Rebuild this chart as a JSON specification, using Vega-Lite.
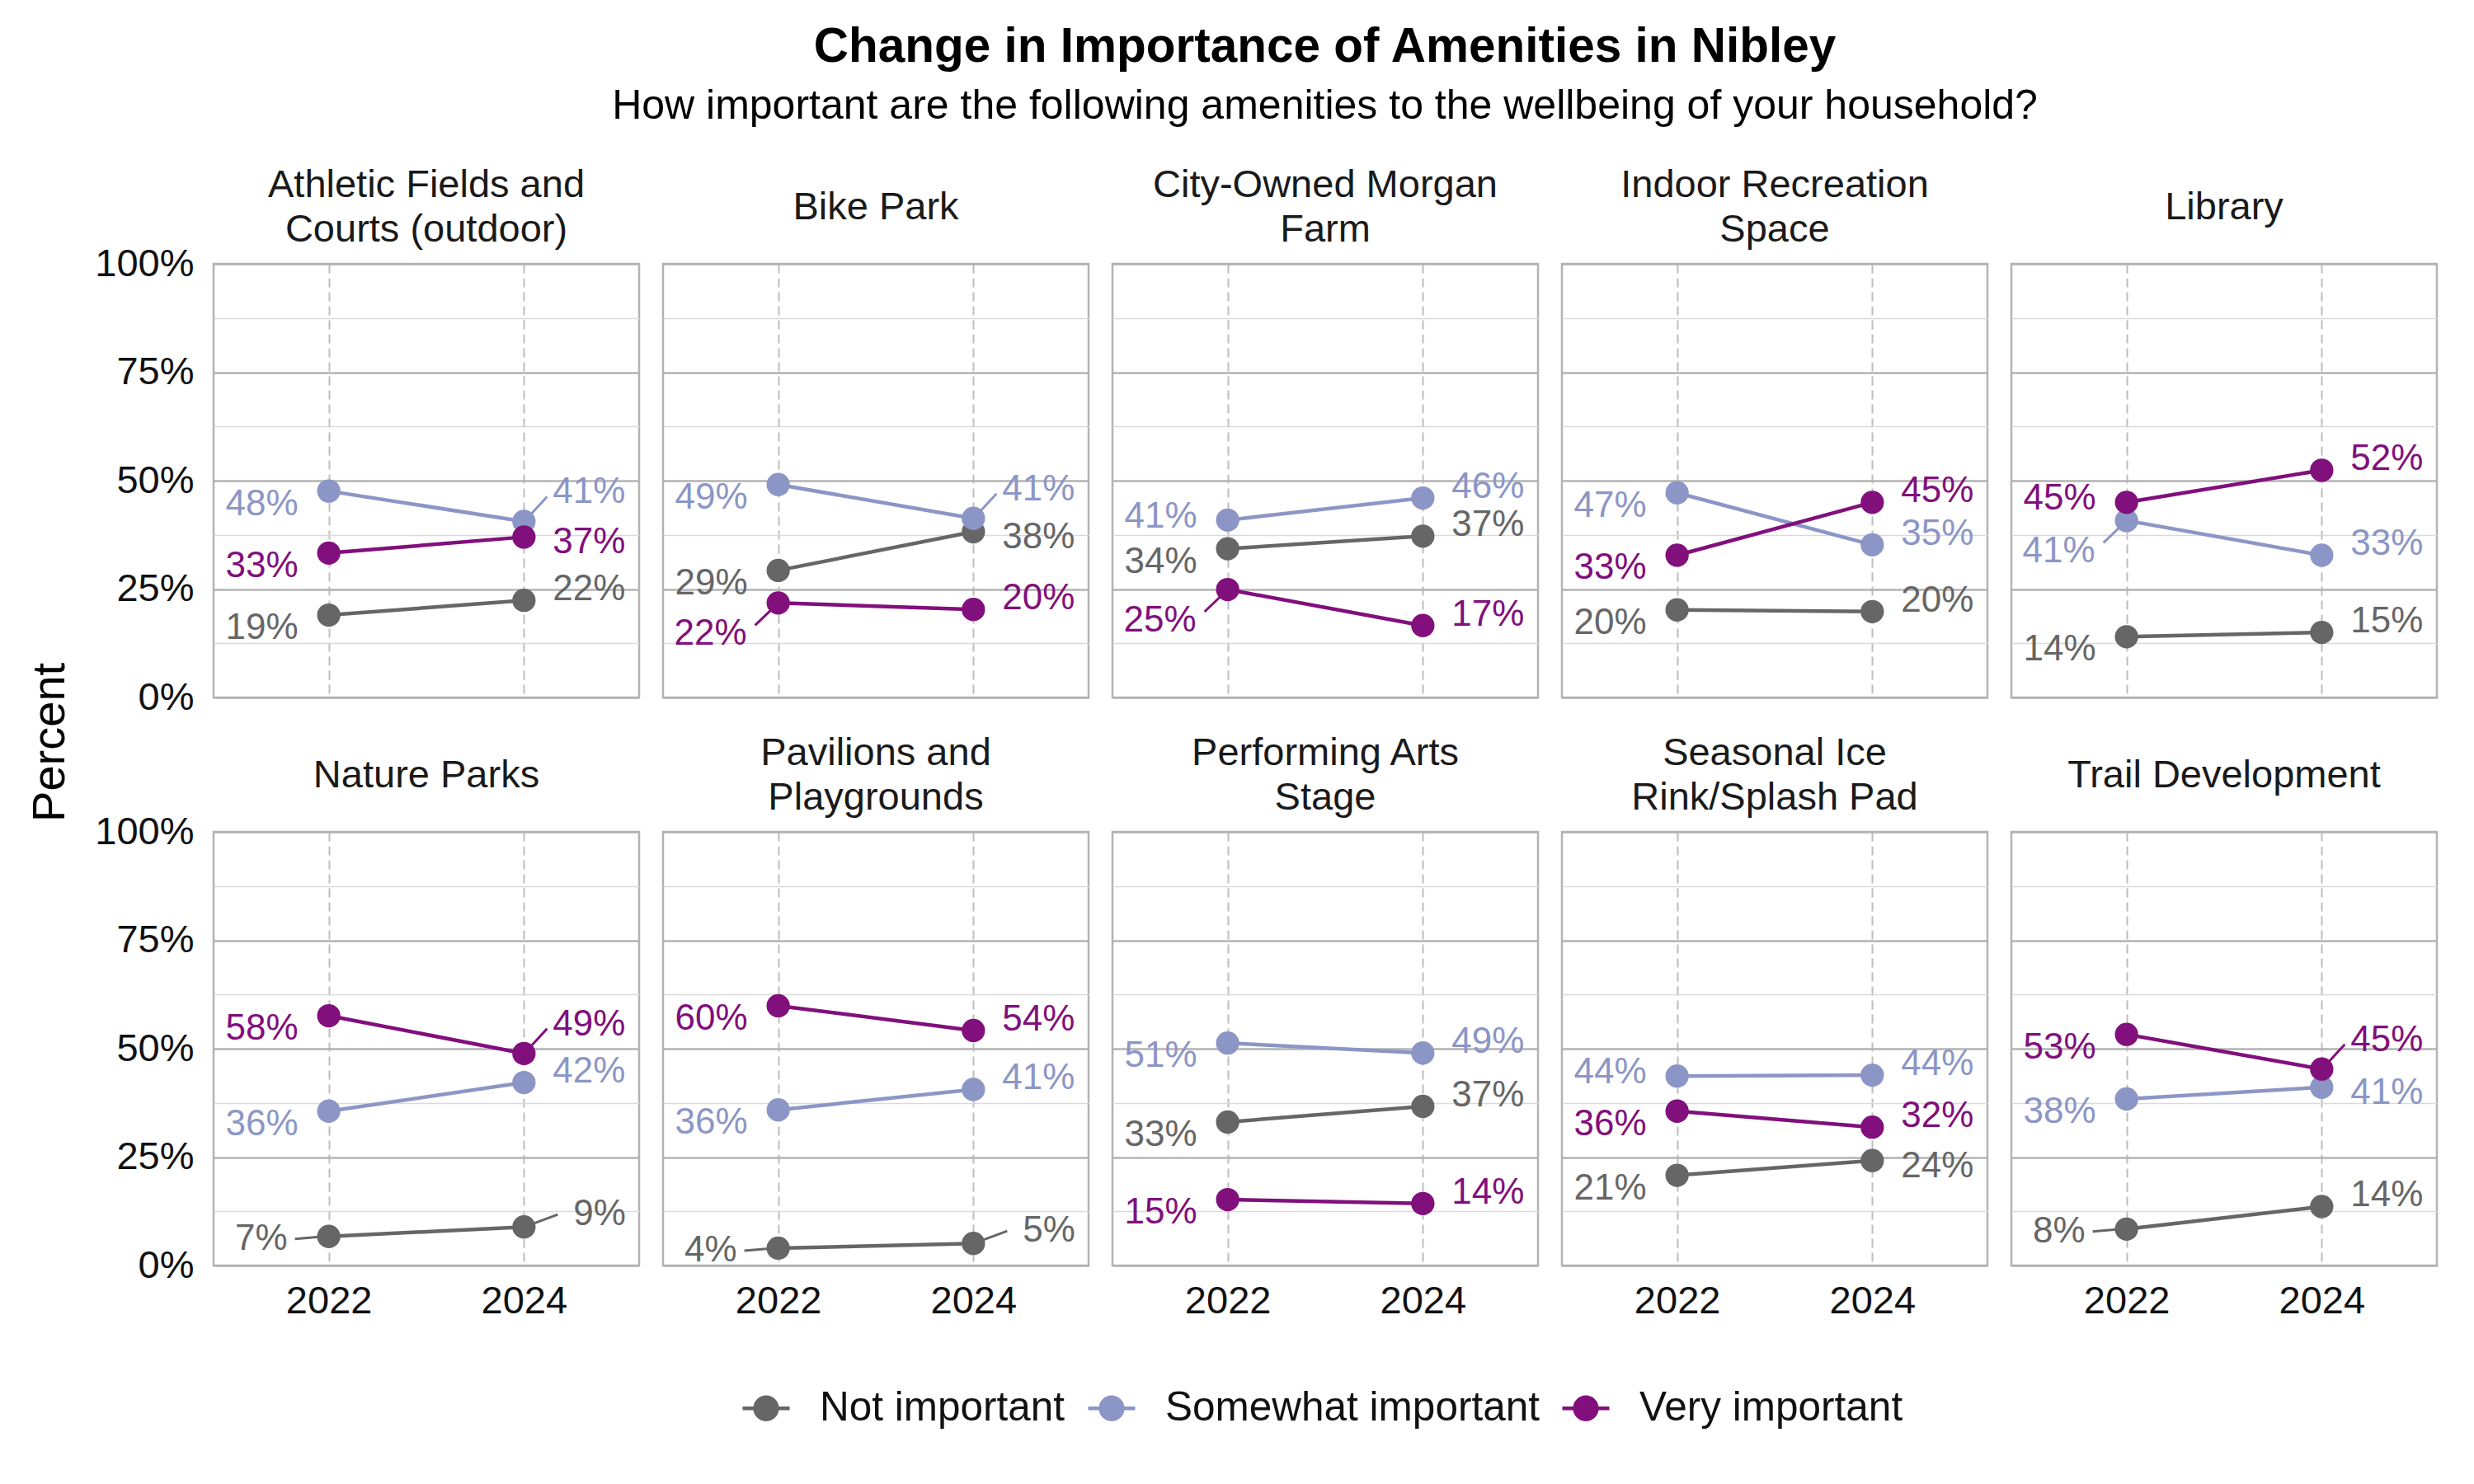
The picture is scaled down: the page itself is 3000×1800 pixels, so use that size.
{
  "$schema": "https://vega.github.io/schema/vega-lite/v6.json",
  "background": "white",
  "padding": {"left": 32, "top": 28, "right": 40, "bottom": 20},
  "title": {
    "text": "Change in Importance of Amenities in Nibley",
    "subtitle": "How important are the following amenities to the wellbeing of your household?",
    "anchor": "middle",
    "dx": 112,
    "font": "Liberation Sans",
    "fontSize": 58.5,
    "fontWeight": "bold",
    "color": "#000000",
    "subtitleFont": "Liberation Sans",
    "subtitleFontSize": 50,
    "subtitleColor": "#000000",
    "subtitlePadding": 16,
    "offset": 45
  },
  "data": {
    "values": [
      {"amenity": "Athletic Fields and Courts (outdoor)", "level": "Not important", "year": 2022, "pct": 0.190},
      {"amenity": "Athletic Fields and Courts (outdoor)", "level": "Not important", "year": 2024, "pct": 0.224},
      {"amenity": "Athletic Fields and Courts (outdoor)", "level": "Somewhat important", "year": 2022, "pct": 0.476},
      {"amenity": "Athletic Fields and Courts (outdoor)", "level": "Somewhat important", "year": 2024, "pct": 0.406},
      {"amenity": "Athletic Fields and Courts (outdoor)", "level": "Very important", "year": 2022, "pct": 0.333},
      {"amenity": "Athletic Fields and Courts (outdoor)", "level": "Very important", "year": 2024, "pct": 0.370},
      {"amenity": "Bike Park", "level": "Not important", "year": 2022, "pct": 0.293},
      {"amenity": "Bike Park", "level": "Not important", "year": 2024, "pct": 0.382},
      {"amenity": "Bike Park", "level": "Somewhat important", "year": 2022, "pct": 0.491},
      {"amenity": "Bike Park", "level": "Somewhat important", "year": 2024, "pct": 0.413},
      {"amenity": "Bike Park", "level": "Very important", "year": 2022, "pct": 0.218},
      {"amenity": "Bike Park", "level": "Very important", "year": 2024, "pct": 0.203},
      {"amenity": "City-Owned Morgan Farm", "level": "Not important", "year": 2022, "pct": 0.343},
      {"amenity": "City-Owned Morgan Farm", "level": "Not important", "year": 2024, "pct": 0.372},
      {"amenity": "City-Owned Morgan Farm", "level": "Somewhat important", "year": 2022, "pct": 0.409},
      {"amenity": "City-Owned Morgan Farm", "level": "Somewhat important", "year": 2024, "pct": 0.460},
      {"amenity": "City-Owned Morgan Farm", "level": "Very important", "year": 2022, "pct": 0.249},
      {"amenity": "City-Owned Morgan Farm", "level": "Very important", "year": 2024, "pct": 0.166},
      {"amenity": "Indoor Recreation Space", "level": "Not important", "year": 2022, "pct": 0.202},
      {"amenity": "Indoor Recreation Space", "level": "Not important", "year": 2024, "pct": 0.198},
      {"amenity": "Indoor Recreation Space", "level": "Somewhat important", "year": 2022, "pct": 0.472},
      {"amenity": "Indoor Recreation Space", "level": "Somewhat important", "year": 2024, "pct": 0.352},
      {"amenity": "Indoor Recreation Space", "level": "Very important", "year": 2022, "pct": 0.328},
      {"amenity": "Indoor Recreation Space", "level": "Very important", "year": 2024, "pct": 0.450},
      {"amenity": "Library", "level": "Not important", "year": 2022, "pct": 0.140},
      {"amenity": "Library", "level": "Not important", "year": 2024, "pct": 0.150},
      {"amenity": "Library", "level": "Somewhat important", "year": 2022, "pct": 0.408},
      {"amenity": "Library", "level": "Somewhat important", "year": 2024, "pct": 0.328},
      {"amenity": "Library", "level": "Very important", "year": 2022, "pct": 0.450},
      {"amenity": "Library", "level": "Very important", "year": 2024, "pct": 0.524},
      {"amenity": "Nature Parks", "level": "Not important", "year": 2022, "pct": 0.067},
      {"amenity": "Nature Parks", "level": "Not important", "year": 2024, "pct": 0.089},
      {"amenity": "Nature Parks", "level": "Somewhat important", "year": 2022, "pct": 0.356},
      {"amenity": "Nature Parks", "level": "Somewhat important", "year": 2024, "pct": 0.422},
      {"amenity": "Nature Parks", "level": "Very important", "year": 2022, "pct": 0.576},
      {"amenity": "Nature Parks", "level": "Very important", "year": 2024, "pct": 0.489},
      {"amenity": "Pavilions and Playgrounds", "level": "Not important", "year": 2022, "pct": 0.040},
      {"amenity": "Pavilions and Playgrounds", "level": "Not important", "year": 2024, "pct": 0.051},
      {"amenity": "Pavilions and Playgrounds", "level": "Somewhat important", "year": 2022, "pct": 0.359},
      {"amenity": "Pavilions and Playgrounds", "level": "Somewhat important", "year": 2024, "pct": 0.406},
      {"amenity": "Pavilions and Playgrounds", "level": "Very important", "year": 2022, "pct": 0.599},
      {"amenity": "Pavilions and Playgrounds", "level": "Very important", "year": 2024, "pct": 0.542},
      {"amenity": "Performing Arts Stage", "level": "Not important", "year": 2022, "pct": 0.331},
      {"amenity": "Performing Arts Stage", "level": "Not important", "year": 2024, "pct": 0.367},
      {"amenity": "Performing Arts Stage", "level": "Somewhat important", "year": 2022, "pct": 0.513},
      {"amenity": "Performing Arts Stage", "level": "Somewhat important", "year": 2024, "pct": 0.490},
      {"amenity": "Performing Arts Stage", "level": "Very important", "year": 2022, "pct": 0.152},
      {"amenity": "Performing Arts Stage", "level": "Very important", "year": 2024, "pct": 0.143},
      {"amenity": "Seasonal Ice Rink/Splash Pad", "level": "Not important", "year": 2022, "pct": 0.208},
      {"amenity": "Seasonal Ice Rink/Splash Pad", "level": "Not important", "year": 2024, "pct": 0.242},
      {"amenity": "Seasonal Ice Rink/Splash Pad", "level": "Somewhat important", "year": 2022, "pct": 0.437},
      {"amenity": "Seasonal Ice Rink/Splash Pad", "level": "Somewhat important", "year": 2024, "pct": 0.439},
      {"amenity": "Seasonal Ice Rink/Splash Pad", "level": "Very important", "year": 2022, "pct": 0.356},
      {"amenity": "Seasonal Ice Rink/Splash Pad", "level": "Very important", "year": 2024, "pct": 0.319},
      {"amenity": "Trail Development", "level": "Not important", "year": 2022, "pct": 0.084},
      {"amenity": "Trail Development", "level": "Not important", "year": 2024, "pct": 0.136},
      {"amenity": "Trail Development", "level": "Somewhat important", "year": 2022, "pct": 0.384},
      {"amenity": "Trail Development", "level": "Somewhat important", "year": 2024, "pct": 0.411},
      {"amenity": "Trail Development", "level": "Very important", "year": 2022, "pct": 0.533},
      {"amenity": "Trail Development", "level": "Very important", "year": 2024, "pct": 0.453}
    ]
  },
  "vconcat": [
    {
      "title": {
        "text": "Percent",
        "orient": "left",
        "anchor": "middle",
        "font": "Liberation Sans",
        "fontSize": 56,
        "fontWeight": "normal",
        "color": "#000000",
        "offset": 25
      },
      "facet": {
        "field": "amenity",
        "type": "nominal",
        "header": {
          "title": null,
          "labelFont": "Liberation Sans",
          "labelFontSize": 47,
          "labelColor": "#1a1a1a",
          "labelLineHeight": 27,
          "labelBaseline": "middle",
          "labelPadding": -6,
          "labelExpr": "datum.value == 'Athletic Fields and Courts (outdoor)' ? ['Athletic Fields and', '\u200b', 'Courts (outdoor)'] : datum.value == 'City-Owned Morgan Farm' ? ['City-Owned Morgan', '\u200b', 'Farm'] : datum.value == 'Indoor Recreation Space' ? ['Indoor Recreation', '\u200b', 'Space'] : datum.value == 'Pavilions and Playgrounds' ? ['Pavilions and', '\u200b', 'Playgrounds'] : datum.value == 'Performing Arts Stage' ? ['Performing Arts', '\u200b', 'Stage'] : datum.value == 'Seasonal Ice Rink/Splash Pad' ? ['Seasonal Ice', '\u200b', 'Rink/Splash Pad'] : ['\u200b', datum.value, '\u200b']"
        }
      },
      "columns": 5,
      "spacing": {"row": 36, "column": 25},
      "spec": {
        "width": 516,
        "height": 526,
        "encoding": {
          "x": {
            "field": "year",
            "type": "ordinal",
            "scale": {"type": "point", "padding": 0.59},
            "axis": {
              "title": null,
              "labelAngle": 0,
              "domain": false,
              "ticks": false,
              "labelFont": "Liberation Sans",
              "labelFontSize": 47,
              "labelColor": "#111111",
              "labelPadding": 14,
              "grid": true,
              "gridDash": [11, 6],
              "gridColor": "#bdbdbd",
              "gridWidth": 2
            }
          },
          "y": {
            "field": "pct",
            "type": "quantitative",
            "scale": {"domain": [0, 1], "nice": false, "zero": true},
            "axis": {
              "title": null,
              "values": [0, 0.125, 0.25, 0.375, 0.5, 0.625, 0.75, 0.875, 1],
              "format": ".0%",
              "labelExpr": "(datum.value * 4) % 1 == 0 ? datum.label : ''",
              "labelOverlap": false,
              "domain": false,
              "ticks": false,
              "labelFont": "Liberation Sans",
              "labelFontSize": 47,
              "labelColor": "#111111",
              "labelPadding": 22,
              "gridColor": {"condition": {"test": "(datum.value * 4) % 1 == 0", "value": "#b3b3b3"}, "value": "#dadada"},
              "gridWidth": {"condition": {"test": "(datum.value * 4) % 1 == 0", "value": 2.5}, "value": 1.5}
            }
          },
          "color": {
            "field": "level",
            "type": "nominal",
            "scale": {
              "domain": ["Not important", "Somewhat important", "Very important"],
              "range": ["#666666", "#8C96C6", "#810F7C"]
            },
            "legend": {
              "title": null,
              "orient": "none",
              "direction": "horizontal",
              "legendX": 639,
              "legendY": 1357,
              "labelFont": "Liberation Sans",
              "labelFontSize": 49.5,
              "labelColor": "#111111",
              "labelLimit": 1000,
              "symbolType": "M-1,0L1,0M-0.47,0A0.47,0.47,0,1,1,0.47,0A0.47,0.47,0,1,1,-0.47,0Z",
              "symbolSize": 3249,
              "symbolStrokeWidth": 4.5,
              "symbolOpacity": 1,
              "labelOffset": 34,
              "columnPadding": 18
            }
          }
        },
        "layer": [
          {"mark": {"type": "line", "strokeWidth": 4.5}},
          {
            "transform": [{"filter": "datum.year == 2024 && indexof(['Athletic Fields and Courts (outdoor)|Somewhat important', 'Bike Park|Somewhat important', 'Nature Parks|Very important', 'Trail Development|Very important'], datum.amenity + '|' + datum.level) >= 0"}],
            "mark": {"type": "rule", "strokeWidth": 3, "xOffset": 5, "yOffset": -5, "x2Offset": 28, "y2Offset": -30},
            "encoding": {"x2": {"field": "year"}, "y2": {"field": "pct"}}
          },
          {
            "transform": [{"filter": "datum.year == 2024 && indexof(['Nature Parks|Not important', 'Pavilions and Playgrounds|Not important'], datum.amenity + '|' + datum.level) >= 0"}],
            "mark": {"type": "rule", "strokeWidth": 3, "xOffset": 6, "yOffset": -2, "x2Offset": 41, "y2Offset": -15},
            "encoding": {"x2": {"field": "year"}, "y2": {"field": "pct"}}
          },
          {
            "transform": [{"filter": "datum.year == 2022 && indexof(['Bike Park|Very important', 'City-Owned Morgan Farm|Very important', 'Library|Somewhat important'], datum.amenity + '|' + datum.level) >= 0"}],
            "mark": {"type": "rule", "strokeWidth": 3, "xOffset": -5, "yOffset": 5, "x2Offset": -28, "y2Offset": 27},
            "encoding": {"x2": {"field": "year"}, "y2": {"field": "pct"}}
          },
          {
            "transform": [{"filter": "datum.year == 2022 && indexof(['Nature Parks|Not important', 'Pavilions and Playgrounds|Not important', 'Trail Development|Not important'], datum.amenity + '|' + datum.level) >= 0"}],
            "mark": {"type": "rule", "strokeWidth": 3, "xOffset": -6, "yOffset": 0, "x2Offset": -41, "y2Offset": 3},
            "encoding": {"x2": {"field": "year"}, "y2": {"field": "pct"}}
          },
          {"mark": {"type": "circle", "size": 800, "opacity": 1}},
          {
            "transform": [{"filter": "datum.year == 2022 && indexof(['Library|Very important', 'City-Owned Morgan Farm|Somewhat important', 'Seasonal Ice Rink/Splash Pad|Somewhat important', 'Bike Park|Very important', 'City-Owned Morgan Farm|Very important', 'Library|Somewhat important', 'Nature Parks|Not important', 'Pavilions and Playgrounds|Not important', 'Trail Development|Not important'], datum.amenity + '|' + datum.level) < 0"}],
            "mark": {"type": "text", "align": "right", "baseline": "middle", "dx": -37, "dy": 16, "font": "Liberation Sans", "fontSize": 44},
            "encoding": {"text": {"field": "pct", "type": "quantitative", "format": ".0%"}}
          },
          {
            "transform": [{"filter": "datum.year == 2022 && indexof(['Library|Very important', 'City-Owned Morgan Farm|Somewhat important', 'Seasonal Ice Rink/Splash Pad|Somewhat important'], datum.amenity + '|' + datum.level) >= 0"}],
            "mark": {"type": "text", "align": "right", "baseline": "middle", "dx": -37, "dy": -4, "font": "Liberation Sans", "fontSize": 44},
            "encoding": {"text": {"field": "pct", "type": "quantitative", "format": ".0%"}}
          },
          {
            "transform": [{"filter": "datum.year == 2022 && indexof(['Bike Park|Very important', 'City-Owned Morgan Farm|Very important', 'Library|Somewhat important'], datum.amenity + '|' + datum.level) >= 0"}],
            "mark": {"type": "text", "align": "right", "baseline": "middle", "dx": -38, "dy": 38, "font": "Liberation Sans", "fontSize": 44},
            "encoding": {"text": {"field": "pct", "type": "quantitative", "format": ".0%"}}
          },
          {
            "transform": [{"filter": "datum.year == 2022 && indexof(['Nature Parks|Not important', 'Pavilions and Playgrounds|Not important', 'Trail Development|Not important'], datum.amenity + '|' + datum.level) >= 0"}],
            "mark": {"type": "text", "align": "right", "baseline": "middle", "dx": -50, "dy": 3, "font": "Liberation Sans", "fontSize": 44},
            "encoding": {"text": {"field": "pct", "type": "quantitative", "format": ".0%"}}
          },
          {
            "transform": [{"filter": "datum.year == 2024 && indexof(['Athletic Fields and Courts (outdoor)|Very important', 'Bike Park|Not important', 'Trail Development|Somewhat important', 'Seasonal Ice Rink/Splash Pad|Not important', 'Athletic Fields and Courts (outdoor)|Somewhat important', 'Bike Park|Somewhat important', 'Nature Parks|Very important', 'Trail Development|Very important', 'Nature Parks|Not important', 'Pavilions and Playgrounds|Not important'], datum.amenity + '|' + datum.level) < 0"}],
            "mark": {"type": "text", "align": "left", "baseline": "middle", "dx": 35, "dy": -13, "font": "Liberation Sans", "fontSize": 44},
            "encoding": {"text": {"field": "pct", "type": "quantitative", "format": ".0%"}}
          },
          {
            "transform": [{"filter": "datum.year == 2024 && indexof(['Athletic Fields and Courts (outdoor)|Very important', 'Bike Park|Not important', 'Trail Development|Somewhat important', 'Seasonal Ice Rink/Splash Pad|Not important'], datum.amenity + '|' + datum.level) >= 0"}],
            "mark": {"type": "text", "align": "left", "baseline": "middle", "dx": 35, "dy": 7, "font": "Liberation Sans", "fontSize": 44},
            "encoding": {"text": {"field": "pct", "type": "quantitative", "format": ".0%"}}
          },
          {
            "transform": [{"filter": "datum.year == 2024 && indexof(['Athletic Fields and Courts (outdoor)|Somewhat important', 'Bike Park|Somewhat important', 'Nature Parks|Very important', 'Trail Development|Very important'], datum.amenity + '|' + datum.level) >= 0"}],
            "mark": {"type": "text", "align": "left", "baseline": "middle", "dx": 35, "dy": -35, "font": "Liberation Sans", "fontSize": 44},
            "encoding": {"text": {"field": "pct", "type": "quantitative", "format": ".0%"}}
          },
          {
            "transform": [{"filter": "datum.year == 2024 && indexof(['Nature Parks|Not important', 'Pavilions and Playgrounds|Not important'], datum.amenity + '|' + datum.level) >= 0"}],
            "mark": {"type": "text", "align": "left", "baseline": "middle", "dx": 60, "dy": -15, "font": "Liberation Sans", "fontSize": 44},
            "encoding": {"text": {"field": "pct", "type": "quantitative", "format": ".0%"}}
          }
        ]
      }
    }
  ],
  "config": {
    "view": {"stroke": "#b3b3b3", "strokeWidth": 2.5}
  }
}
